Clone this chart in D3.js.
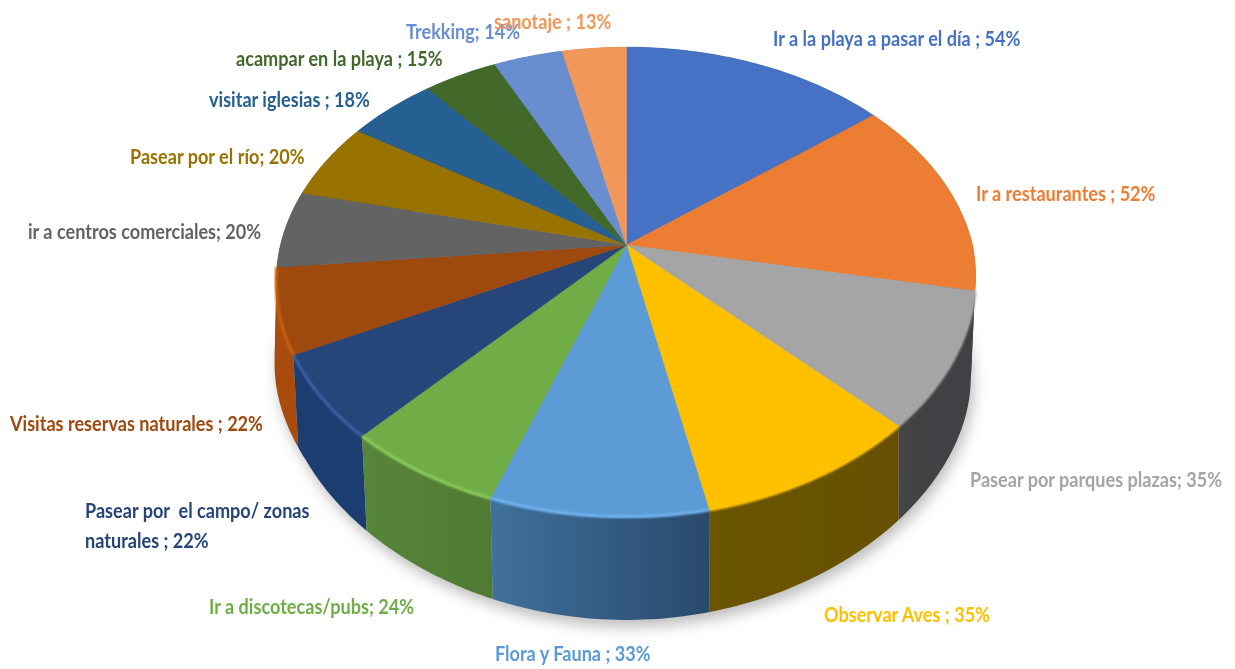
<!DOCTYPE html>
<html>
<head>
<meta charset="utf-8">
<script src="https://cdn.jsdelivr.net/npm/d3@7"></script>
<style>
html, body { margin: 0; padding: 0; background: #fff; }
text { font-family: Lato, "Liberation Sans", sans-serif; font-weight: bold; font-size: 21px; }
</style>
</head>
<body>
<div id="chart"></div>
<script>
var categories = ["Ir a la playa a pasar el día", "Ir a restaurantes", "Pasear por parques plazas", "Observar Aves",
    "Flora y Fauna", "Ir a discotecas/pubs", "Pasear por  el campo/ zonas naturales", "Visitas reservas naturales",
    "ir a centros comerciales", "Pasear por el río", "visitar iglesias", "acampar en la playa", "Trekking", "sanotaje"];
var values = [54, 52, 35, 35, 33, 24, 22, 22, 20, 20, 18, 15, 14, 13];

var labelLines = [["Ir a la playa a pasar el día ; 54%"], ["Ir a restaurantes ; 52%"], ["Pasear por parques plazas; 35%"],
    ["Observar Aves ; 35%"], ["Flora y Fauna ; 33%"], ["Ir a discotecas/pubs; 24%"],
    ["Pasear por  el campo/ zonas", "naturales ; 22%"], ["Visitas reservas naturales ; 22%"],
    ["ir a centros comerciales; 20%"], ["Pasear por el río; 20%"], ["visitar iglesias ; 18%"],
    ["acampar en la playa ; 15%"], ["Trekking; 14%"], ["sanotaje ; 13%"]];

var colors = ["#4472c4", "#ed7d31", "#a5a5a5", "#ffc000", "#5b9bd5", "#70ad47", "#264478",
    "#9e480e", "#636363", "#997300", "#255e91", "#43682b", "#698ed0", "#f1975a"];
var wallLeft = ["#2c4a80", "#9a5120", "#444444", "#6b5400", "#40709c", "#56863a", "#1d3c70",
    "#a84c0c", "#454545", "#6b5000", "#1a4266", "#2f491e", "#4a6392", "#a9693f"];
var wallRight = ["#2c4a80", "#5a3013", "#404044", "#665000", "#284a6c", "#4f7a30", "#1d3c70",
    "#a84c0c", "#454545", "#6b5000", "#1a4266", "#2f491e", "#4a6392", "#a9693f"];
var rimColors = ["#4472c4", "#ed7d31", "#a5a5a5", "#ffc000", "#72b4f0", "#8ccc5c", "#3a62a8",
    "#c8620f", "#636363", "#997300", "#255e91", "#43682b", "#698ed0", "#f1975a"];

var labelX = [773, 976, 970, 824, 495, 209, 85, 10, 28, 130, 209, 236, 406, 494];
var labelY = [46, 201, 487, 622, 661, 614, 518, 431, 239, 164, 107, 66, 39, 29];
var labelStretch = 0.862;

var width = 1235, height = 669;
var cx = 626.5, cy = 245, A = 346, B = 229, k = 0.1575;
var A2 = 340, B2 = 207.7, k2 = 0.25, cy2 = 343;

var svg = d3.select("#chart").append("svg")
    .attr("width", width)
    .attr("height", height)
    .style("display", "block");

var defs = svg.append("defs");
defs.append("filter").attr("id", "soft").append("feGaussianBlur").attr("stdDeviation", 0.7);
defs.append("filter").attr("id", "softText").append("feGaussianBlur").attr("stdDeviation", 0.45);
defs.append("filter").attr("id", "rim").append("feGaussianBlur").attr("stdDeviation", 1.2);
var shadowFilter = defs.append("filter").attr("id", "shadow")
    .attr("x", "-10%").attr("y", "-10%").attr("width", "120%").attr("height", "120%");
shadowFilter.append("feGaussianBlur").attr("stdDeviation", 7);

// the pie is a flat disc seen in perspective, so the centre sits above the middle of the ellipse
function projectTop(a) {
    var x = Math.sin(a), y = -Math.cos(a), w = 1 - k * y;
    var squeeze = (x > 0 && y > 0) ? 1 - 0.025 * y : 1;
    return [cx + A * squeeze * x / w, cy + B * y / w];
}
function projectBottom(a) {
    var x = Math.sin(a), y = -Math.cos(a);
    var bulge = (x < 0 && y < 0.5) ? 1 + 0.06 * (0.5 - y) : 1;
    return [cx + A2 * bulge * x / (1 - k * y), cy2 + B2 * y / (1 - k2 * y)];
}

var pie = d3.pie().sort(null).value(function (d) { return d; });
var arcs = pie(values);
var line = d3.line();

function arcAngles(d) {
    var n = Math.max(2, Math.ceil((d.endAngle - d.startAngle) * 60));
    return d3.range(n + 1).map(function (i) { return d.startAngle + (d.endAngle - d.startAngle) * i / n; });
}

arcs.forEach(function (d, i) {
    var grad = defs.append("linearGradient").attr("id", "wall" + i);
    grad.append("stop").attr("offset", "0%").attr("stop-color", wallLeft[i]);
    grad.append("stop").attr("offset", "100%").attr("stop-color", wallRight[i]);
});

var fullCircle = d3.range(0, 361, 2).map(function (a) { return projectBottom(a * Math.PI / 180); });
svg.append("path")
    .attr("d", line(fullCircle) + "Z")
    .attr("transform", "translate(3,7)")
    .attr("fill", "#bdbdbd")
    .attr("filter", "url(#shadow)");

var pieGroup = svg.append("g").attr("filter", "url(#soft)");

// walls go from the back to the front
var wallOrder = arcs.slice().sort(function (a, b) {
    return projectTop((a.startAngle + a.endAngle) / 2)[1] - projectTop((b.startAngle + b.endAngle) / 2)[1];
});
pieGroup.selectAll(".wall")
    .data(wallOrder)
    .enter()
    .append("path")
    .attr("class", "wall")
    .attr("fill", function (d) { return "url(#wall" + d.index + ")"; })
    .attr("d", function (d) {
        var angles = arcAngles(d);
        return line(angles.map(projectTop).concat(angles.slice().reverse().map(projectBottom))) + "Z";
    });

pieGroup.selectAll(".slice")
    .data(arcs)
    .enter()
    .append("path")
    .attr("class", "slice")
    .attr("fill", function (d) { return colors[d.index]; })
    .attr("stroke", function (d) { return colors[d.index]; })
    .attr("stroke-width", 0.5)
    .attr("d", function (d) {
        return line([[cx, cy]].concat(arcAngles(d).map(projectTop))) + "Z";
    });

// lit bevel along the front edge of the top face
pieGroup.selectAll(".rimShade")
    .data(arcs.filter(function (d) { return projectTop((d.startAngle + d.endAngle) / 2)[1] > 300; }))
    .enter()
    .append("path")
    .attr("class", "rimShade")
    .attr("fill", "none")
    .attr("stroke", function (d) { return rimColors[d.index]; })
    .attr("stroke-width", 3)
    .attr("filter", "url(#rim)")
    .attr("d", function (d) { return line(arcAngles(d).map(projectTop)); });

var labels = svg.append("g").attr("filter", "url(#softText)");
labels.selectAll("text")
    .data(categories)
    .enter()
    .append("text")
    .attr("transform", function (d, i) {
        return "translate(" + labelX[i] + "," + labelY[i] + ") scale(" + labelStretch + ",1)";
    })
    .attr("fill", function (d, i) { return colors[i]; })
    .each(function (d, i) {
        var el = d3.select(this);
        labelLines[i].forEach(function (t, j) {
            el.append("tspan")
                .attr("x", 0)
                .attr("dy", j === 0 ? 0 : 30)
                .attr("xml:space", "preserve")
                .text(t);
        });
    });

// the source picture is cropped just above the top label
svg.append("rect").attr("x", 0).attr("y", 0).attr("width", width).attr("height", 13).attr("fill", "#fff");
</script>
</body>
</html>
